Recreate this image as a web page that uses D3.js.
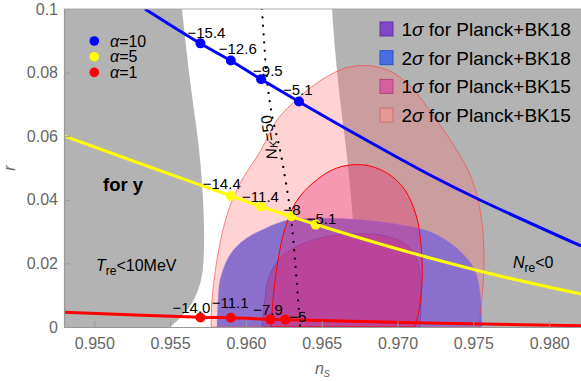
<!DOCTYPE html>
<html><head><meta charset="utf-8">
<script src="https://cdn.jsdelivr.net/npm/d3@7"></script>
<style>
body{margin:0;background:#fff}
text{font-family:"Liberation Sans",Arial,Helvetica,sans-serif}
</style>
</head><body>
<svg id="c" width="581" height="381"></svg>
<script>
// ---------------- data ----------------
const xTicks = [0.950, 0.955, 0.960, 0.965, 0.970, 0.975, 0.980];
const xTickLabels = ["0.950", "0.955", "0.960", "0.965", "0.970", "0.975", "0.980"];
const yTicks = [0, 0.02, 0.04, 0.06, 0.08, 0.1];
const yTickLabels = ["0", "0.02", "0.04", "0.06", "0.08", "0.1"];

// excluded regions (boundaries, top to bottom)
const leftExcludedBoundary = [[0.95578,0.1],[0.95631,0.07767],[0.95691,0.05566],[0.95717,0.03994],[0.95723,0.02421],[0.95704,0.01478],[0.95644,0.00755],[0.95565,0.00283],[0.95499,0]];
const rightExcludedBoundary = [[0.96568,0.1],[0.96588,0.08711],[0.96621,0.07138],[0.96673,0.05094],[0.96720,0.02421],[0.96739,0]];

// observational contours
const bk15TwoSigma = [[0.95770,0],[0.95776,0.00849],[0.95790,0.01478],[0.95820,0.02421],[0.95875,0.03522],[0.95955,0.04465],[0.96100,0.05566],[0.96205,0.06509],[0.96357,0.07250],[0.96508,0.07800],[0.96660,0.08150],[0.96800,0.08220],[0.96950,0.08050],[0.97090,0.07550],[0.97234,0.06650],[0.97379,0.05650],[0.97490,0.04650],[0.97555,0.03365],[0.97570,0.01950],[0.97555,0.00849],[0.97535,0]];
const bk15OneSigma = [[0.96165,0],[0.96185,0.01164],[0.96212,0.02107],[0.96251,0.02987],[0.96330,0.03931],[0.96442,0.04528],[0.96568,0.04937],[0.96687,0.05094],[0.96818,0.05063],[0.96950,0.04780],[0.97049,0.04308],[0.97122,0.03522],[0.97155,0.02579],[0.97162,0.01478],[0.97142,0.00535],[0.97115,0]];
const bk18TwoSigma = [[0.95809,0],[0.95816,0.00849],[0.95829,0.01478],[0.95882,0.02170],[0.95948,0.02579],[0.96027,0.02860],[0.96126,0.03100],[0.96205,0.03260],[0.96291,0.03380],[0.96489,0.03420],[0.96753,0.03380],[0.97016,0.03220],[0.97214,0.03000],[0.97346,0.02650],[0.97432,0.02300],[0.97498,0.01900],[0.97531,0.01478],[0.97550,0.00849],[0.97557,0]];
const bk18OneSigma = [[0.96106,0],[0.96126,0.00849],[0.96146,0.01478],[0.96225,0.02170],[0.96357,0.02579],[0.96522,0.02830],[0.96687,0.02925],[0.96884,0.02893],[0.97030,0.02673],[0.97115,0.02264],[0.97148,0.01635],[0.97155,0.00849],[0.97148,0]];

// model curves
const alpha10Curve = [[0.95334,0.1],[0.95697,0.08921],[0.95898,0.08381],[0.96100,0.07789],[0.96350,0.07085],[0.96687,0.06164],[0.97214,0.04780],[0.97544,0.03994],[0.98210,0.02547]];
const alpha5Curve = [[0.948,0.06006],[0.95367,0.05031],[0.95902,0.04119],[0.96100,0.03789],[0.96297,0.03475],[0.96462,0.03223],[0.96819,0.02704],[0.97214,0.02170],[0.97676,0.01604],[0.98210,0.01038]];
const alpha1Curve = [[0.948,0.00462],[0.95697,0.00305],[0.95902,0.00292],[0.96163,0.00242],[0.96262,0.00230],[0.97102,0.00135],[0.98210,0.00041]];

const alpha10Points = [[0.9570,0.0892],[0.9590,0.0838],[0.9610,0.0779],[0.9635,0.0709]];
const alpha5Points  = [[0.9590,0.0412],[0.9610,0.0379],[0.9630,0.0348],[0.9646,0.0322]];
const alpha1Points  = [[0.9570,0.0030],[0.9590,0.0029],[0.9616,0.0024],[0.9626,0.0023]];
const alpha10Labels = ["\u221215.4", "\u221212.6", "\u22129.5", "\u22125.1"];
const alpha5Labels  = ["\u221214.4", "\u221211.4", "\u22128", "\u22125.1"];
const alpha1Labels  = ["\u221214.0", "\u221211.1", "\u22127.9", "\u22125"];

const nk50Curve = [[0.96106,0.1],[0.96119,0.09025],[0.96139,0.07767],[0.96172,0.06667],[0.96225,0.05566],[0.96264,0.04528],[0.96297,0.03459],[0.96324,0.02107],[0.96344,0.00849],[0.96357,0]];

const seriesNames = ["10", "5", "1"];
const legendLabels = ["1\u03c3 for Planck+BK18", "2\u03c3 for Planck+BK18", "1\u03c3 for Planck+BK15", "2\u03c3 for Planck+BK15"];

// ---------------- layout / style ----------------
const L = 64, R = 581, T = 9, B = 327;
const grayFill = "#b3b3b3";
const lineColors = ["#0000ff", "#ffff00", "#ff0000"];
const swatchFill = ["#8048c8", "#4a6ee2", "#d4619f", "#e59896"];
const swatchStroke = ["#6030a8", "#2850c8", "#b04880", "#c87070"];
const labelOffsets = [
  [[-13,-5.5],[-12,-6.5],[-8,-3.5],[-16,-6.5]],
  [[-28,-6.5],[-19,-4.5],[-8,-1],[-9,-1]],
  [[-28,-4.5],[-19,-10],[-17,-4],[4,2]]
];

const svg = d3.select("#c");
const x = d3.scaleLinear().domain([0.948, 0.9821]).range([L, R]);
const y = d3.scaleLinear().domain([0, 0.1]).range([B, T]);

svg.append("defs").append("clipPath").attr("id", "clip")
  .append("rect").attr("x", L).attr("y", T).attr("width", R - L).attr("height", B - T);

const plot = svg.append("g").attr("clip-path", "url(#clip)");
plot.append("rect").attr("x", L).attr("y", T).attr("width", R - L).attr("height", B - T).attr("fill", "#fff");

const curveGen = d3.line().x(d => x(d[0])).y(d => y(d[1])).curve(d3.curveCatmullRom.alpha(0.5));

function regionPath(boundary, xEdge) {
  const s = curveGen(boundary);
  return "M" + x(xEdge) + "," + y(0.1) + "L" + s.slice(1) + "L" + x(xEdge) + "," + y(0) + "Z";
}
plot.append("path").attr("d", regionPath(leftExcludedBoundary, x.domain()[0])).attr("fill", grayFill);
plot.append("path").attr("d", regionPath(rightExcludedBoundary, x.domain()[1])).attr("fill", grayFill);

function contour(pts) { return curveGen(pts) + "Z"; }
plot.append("path").attr("d", contour(bk18TwoSigma)).attr("fill", "#5a70f5")
  .attr("stroke", "#8fa0ff").attr("stroke-width", 1).attr("stroke-dasharray", "1,2");
plot.append("path").attr("d", contour(bk18OneSigma)).attr("fill", "#7846c8")
  .attr("stroke", "#3a3ad0").attr("stroke-width", 1);
plot.append("path").attr("d", contour(bk15TwoSigma)).attr("fill", "#ff6e6e").attr("fill-opacity", 0.3)
  .attr("stroke", "#ff4040").attr("stroke-width", 0.8).attr("stroke-opacity", 0.8);
plot.append("path").attr("d", contour(bk15OneSigma)).attr("fill", "#e8307a").attr("fill-opacity", 0.36)
  .attr("stroke", "#ff0000").attr("stroke-width", 1);

// N_k = 50 dotted line
plot.append("path").attr("d", curveGen(nk50Curve)).attr("fill", "none")
  .attr("stroke", "#000").attr("stroke-width", 2.2).attr("stroke-linecap", "round")
  .attr("stroke-dasharray", "0.1,8.3");

// model curves
const curves = [alpha10Curve, alpha5Curve, alpha1Curve];
const pts = [alpha10Points, alpha5Points, alpha1Points];
const labs = [alpha10Labels, alpha5Labels, alpha1Labels];
curves.forEach((c, i) => {
  plot.append("path").attr("d", curveGen(c)).attr("fill", "none")
    .attr("stroke", lineColors[i]).attr("stroke-width", 3);
});
pts.forEach((p, i) => {
  plot.selectAll(null).data(p).enter().append("circle")
    .attr("cx", d => x(d[0])).attr("cy", d => y(d[1])).attr("r", 5).attr("fill", lineColors[i]);
});
pts.forEach((p, i) => {
  plot.selectAll(null).data(p).enter().append("text")
    .attr("x", (d, j) => x(d[0]) + labelOffsets[i][j][0])
    .attr("y", (d, j) => y(d[1]) + labelOffsets[i][j][1])
    .attr("font-size", 15).attr("fill", "#000")
    .text((d, j) => labs[i][j]);
});

// N_k = 50 label
{
  const t = plot.append("text").attr("transform", `translate(${x(0.96148)},${y(0.0596)}) rotate(-98)`)
    .attr("text-anchor", "middle").attr("dominant-baseline", "central").attr("font-size", 15.5);
  t.append("tspan").attr("font-style", "italic").text("N");
  t.append("tspan").attr("font-size", 11).attr("font-style", "italic").attr("dy", 4).text("K");
  t.append("tspan").attr("dy", -4).text("=50");
}

// region annotations
plot.append("text").attr("x", 103).attr("y", 190.5).attr("font-size", 18.5).attr("font-weight", "bold").text("for y");
{
  const t = plot.append("text").attr("x", 96).attr("y", 270.5).attr("font-size", 16);
  t.append("tspan").attr("font-style", "italic").text("T");
  t.append("tspan").attr("font-size", 12).attr("dy", 4).text("re");
  t.append("tspan").attr("dy", -4).text("<10MeV");
  const t2 = plot.append("text").attr("x", 513).attr("y", 268).attr("font-size", 16);
  t2.append("tspan").attr("font-style", "italic").text("N");
  t2.append("tspan").attr("font-size", 12).attr("dy", 4).text("re");
  t2.append("tspan").attr("dy", -4).text("<0");
}

// left legend
seriesNames.forEach((n, i) => {
  const cy = 41 + i * 15.7;
  plot.append("circle").attr("cx", 94.3).attr("cy", cy).attr("r", 4.8).attr("fill", lineColors[i]);
  const t = plot.append("text").attr("x", 110).attr("y", cy + 5.5).attr("font-size", 16);
  t.append("tspan").attr("font-style", "italic").text("\u03b1");
  t.append("tspan").text("=" + n);
});

// right legend
legendLabels.forEach((lab, i) => {
  const cy = 29 + i * 28.7;
  plot.append("rect").attr("x", 380).attr("y", cy - 7).attr("width", 13).attr("height", 14)
    .attr("fill", swatchFill[i]).attr("stroke", swatchStroke[i]).attr("stroke-width", 1);
  const parts = lab.split("\u03c3");
  const t = plot.append("text").attr("x", 401.5).attr("y", cy + 6.8).attr("font-size", 19).attr("fill", "#000");
  t.append("tspan").text(parts[0]);
  t.append("tspan").attr("font-style", "italic").text("\u03c3");
  t.append("tspan").text(parts[1]);
});

// axes
const xAxis = d3.axisBottom(x).tickValues(xTicks).tickFormat((d, i) => xTickLabels[i])
  .tickSizeInner(-6).tickSizeOuter(0).tickPadding(11);
const yAxis = d3.axisLeft(y).tickValues(yTicks).tickFormat((d, i) => yTickLabels[i])
  .tickSizeInner(-6).tickSizeOuter(0).tickPadding(6);
const gx = svg.append("g").attr("transform", `translate(0,${B})`).call(xAxis);
const gy = svg.append("g").attr("transform", `translate(${L},0)`).call(yAxis);
[gx, gy].forEach(g => {
  g.select(".domain").attr("stroke", "#999").attr("stroke-width", 1.2);
  g.selectAll(".tick line").attr("stroke", "#999");
  g.selectAll(".tick text").attr("fill", "#666").attr("font-size", 16)
    .attr("font-family", "'Liberation Sans',Arial,sans-serif");
});
svg.append("line").attr("x1", L).attr("x2", R).attr("y1", T).attr("y2", T).attr("stroke", "#aaa").attr("stroke-width", 1);

// axis titles
{
  const t = svg.append("text").attr("x", (L + R) / 2).attr("y", 374).attr("text-anchor", "middle")
    .attr("font-size", 16).attr("fill", "#666");
  t.append("tspan").attr("font-style", "italic").text("n");
  t.append("tspan").attr("font-style", "italic").attr("font-size", 12).attr("dy", 3).text("s");
  svg.append("text").attr("transform", `translate(15,${(T + B) / 2}) rotate(-90)`).attr("text-anchor", "middle")
    .attr("font-size", 16).attr("font-style", "italic").attr("fill", "#666").text("r");
}
</script>
</body></html>
